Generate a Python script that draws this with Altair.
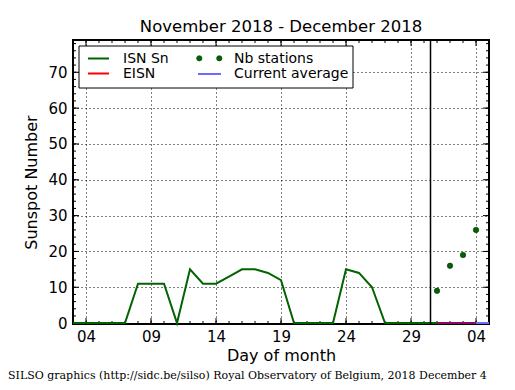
import altair as alt
import pandas as pd

# ---- data ----
isn_days = list(range(3, 32))  # Nov 3 .. Dec 1 (day 31 = Dec 1)
isn_vals = [0, 0, 0, 0, 0, 11, 11, 11, 0, 15, 11, 11, 13, 15, 15, 14, 12,
            0, 0, 0, 0, 15, 14, 10, 0, 0, 0, 0, 0]
nb_days = [31, 32, 33, 34]
nb_vals = [9, 16, 19, 26]
eisn_days = [31, 32, 33, 34]
eisn_vals = [0, 0, 0, 0]
avg_days = [31, 35]
avg_vals = [0, 0]
cut_day = [30.5]

x_ticks = [4, 9, 14, 19, 24, 29, 34]
x_labels = ["04", "09", "14", "19", "24", "29", "04"]
y_ticks = [0, 10, 20, 30, 40, 50, 60, 70]
x_minor = list(range(3, 36))
y_minor = list(range(0, 80, 2))

title_text = "November 2018 - December 2018"
footer_text = "SILSO graphics (http://sidc.be/silso) Royal Observatory of Belgium, 2018 December 4"
legend_names = ["ISN Sn", "EISN", "Nb stations", "Current average"]

W, H = 416, 284
FONT = "DejaVu Sans"
GREEN = "#006400"
RED = "#ff0000"
BLUE = "#6b6bff"

xs = alt.Scale(domain=[3, 35], nice=False, zero=False)
ys = alt.Scale(domain=[-0.25, 79], nice=False, zero=False)

label_expr = "".join(f"datum.value=={t}?'{l}':" for t, l in zip(x_ticks, x_labels)) + "''"

xaxis = alt.Axis(values=x_ticks, labelExpr=label_expr, title="Day of month",
                 grid=True, gridDash=[1, 3], gridColor="black", gridWidth=1, gridOpacity=1,
                 domain=False, ticks=False, labelFont=FONT, labelFontSize=15,
                 labelColor="black", labelPadding=5, labelFlush=False,
                 titleFont=FONT, titleFontSize=16, titleFontWeight="normal",
                 titleColor="black", titleX=W / 2, titleY=36, titleBaseline="alphabetic",
                 titleAlign="center")
yaxis = alt.Axis(values=y_ticks, title="Sunspot Number",
                 grid=True, gridDash=[1, 3], gridColor="black", gridWidth=1, gridOpacity=1,
                 domain=False, ticks=False, labelFont=FONT, labelFontSize=15,
                 labelColor="black", labelPadding=6, labelFlush=False,
                 titleFont=FONT, titleFontSize=16, titleFontWeight="normal",
                 titleColor="black", titleX=-37, titleY=H / 2, titleAngle=270,
                 titleBaseline="alphabetic", titleAlign="center")

X = alt.X("d:Q", scale=xs, axis=xaxis)
Y = alt.Y("v:Q", scale=ys, axis=yaxis)

isn_df = pd.DataFrame({"d": isn_days, "v": isn_vals})
nb_df = pd.DataFrame({"d": nb_days, "v": nb_vals})
eisn_df = pd.DataFrame({"d": eisn_days, "v": eisn_vals})
avg_df = pd.DataFrame({"d": avg_days, "v": avg_vals})
cut_df = pd.DataFrame({"d": cut_day})

one = pd.DataFrame({"k": [0]})
base = alt.Chart(one)

layers = []
# frame (under the data lines)
layers.append(base.mark_rect(fill=None, stroke="black", strokeWidth=2).encode(
    x=alt.value(0), x2=alt.value(W), y=alt.value(0), y2=alt.value(H)))

# inward ticks on all four sides
xmaj = pd.DataFrame({"d": x_ticks})
xmin = pd.DataFrame({"d": x_minor})
ymaj = pd.DataFrame({"v": y_ticks})
ymin = pd.DataFrame({"v": y_minor})
tk = dict(color="black", strokeWidth=1)
layers.append(alt.Chart(xmin).mark_rule(**tk).encode(x=X, y=alt.value(H), y2=alt.value(H - 3)))
layers.append(alt.Chart(xmin).mark_rule(**tk).encode(x=X, y=alt.value(0), y2=alt.value(3)))
layers.append(alt.Chart(xmaj).mark_rule(**tk).encode(x=X, y=alt.value(H), y2=alt.value(H - 6)))
layers.append(alt.Chart(xmaj).mark_rule(**tk).encode(x=X, y=alt.value(0), y2=alt.value(6)))
layers.append(alt.Chart(ymin).mark_rule(**tk).encode(y=Y, x=alt.value(0), x2=alt.value(3)))
layers.append(alt.Chart(ymin).mark_rule(**tk).encode(y=Y, x=alt.value(W), x2=alt.value(W - 3)))
layers.append(alt.Chart(ymaj).mark_rule(**tk).encode(y=Y, x=alt.value(0), x2=alt.value(6)))
layers.append(alt.Chart(ymaj).mark_rule(**tk).encode(y=Y, x=alt.value(W), x2=alt.value(W - 6)))

# data
layers.append(alt.Chart(avg_df).mark_line(color=BLUE, strokeWidth=2).encode(x=X, y=Y))
layers.append(alt.Chart(eisn_df).mark_line(color="#8a0a6a", strokeWidth=2).encode(x=X, y=Y))
layers.append(alt.Chart(isn_df).mark_line(color=GREEN, strokeWidth=2).encode(x=X, y=Y))
layers.append(alt.Chart(cut_df).mark_rule(color="black", strokeWidth=1.5).encode(x=X))
layers.append(alt.Chart(nb_df).mark_point(filled=True, size=30, color=GREEN, stroke="#003000",
                                          strokeWidth=0.6, opacity=1).encode(x=X, y=Y))

# legend (decoration)
layers.append(base.mark_rect(fill="white", stroke="black", strokeWidth=1).encode(
    x=alt.value(6), x2=alt.value(280), y=alt.value(6), y2=alt.value(48)))
layers.append(base.mark_rule(color=GREEN, strokeWidth=2).encode(
    x=alt.value(15), x2=alt.value(36), y=alt.value(18.5)))
layers.append(base.mark_rule(color=RED, strokeWidth=2).encode(
    x=alt.value(15), x2=alt.value(36), y=alt.value(33.5)))
layers.append(base.mark_rule(color=BLUE, strokeWidth=2).encode(
    x=alt.value(125), x2=alt.value(148), y=alt.value(34)))
for px in (126.3, 146.3):
    layers.append(base.mark_point(filled=True, size=28, color=GREEN, stroke="#003000",
                                  strokeWidth=0.6, opacity=1).encode(
        x=alt.value(px), y=alt.value(18.3)))
lt = dict(font=FONT, fontSize=14, color="black", align="left", baseline="alphabetic")
for name, px, py in zip(legend_names, [50, 50, 161, 161], [22.7, 38.3, 22.7, 38.3]):
    layers.append(base.mark_text(text=name, **lt).encode(x=alt.value(px), y=alt.value(py)))

# title and footer
layers.append(base.mark_text(text=title_text, font=FONT, fontSize=16.5, color="black",
                             align="center", baseline="alphabetic").encode(
    x=alt.value(W / 2), y=alt.value(-8)))
layers.append(base.mark_text(text=footer_text, font="DejaVu Serif", fontSize=11, color="black",
                             align="left", baseline="alphabetic").encode(
    x=alt.value(-65), y=alt.value(339.3)))

chart = alt.layer(*layers).properties(
    width=W, height=H,
    autosize=alt.AutoSizeParams(type="none"),
    padding={"left": 65, "top": 32, "right": 18, "bottom": 58},
).configure_view(stroke=None)

chart.save("out.html", embed_options={"renderer": "svg", "actions": False})
